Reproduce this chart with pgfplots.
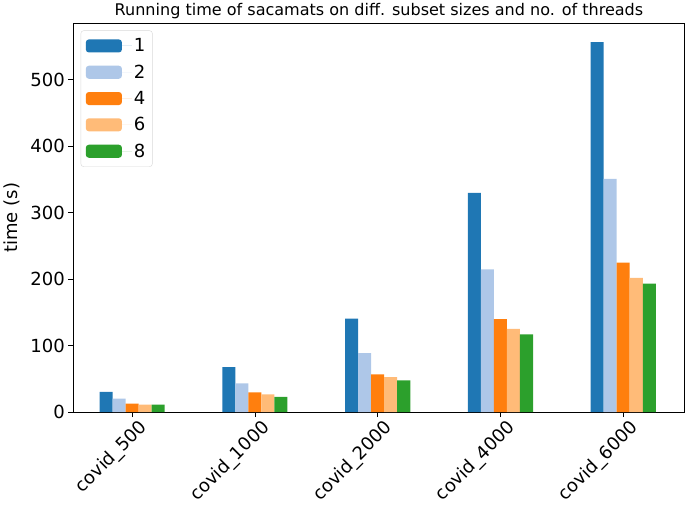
\documentclass[border=0pt]{standalone}
\usepackage{pgfplots}
\pgfplotsset{compat=1.18}
\usepackage{fontspec}
\setmainfont{DejaVu Sans}
\definecolor{c1}{HTML}{1F77B4}
\definecolor{c2}{HTML}{AEC7E8}
\definecolor{c4}{HTML}{FF7F0E}
\definecolor{c6}{HTML}{FFBB78}
\definecolor{c8}{HTML}{2CA02C}
\begin{document}
\begin{tikzpicture}
\begin{axis}[
  scale only axis,
  width=610pt, height=388pt,
  ybar=0pt,
  bar width=0.106,
  xmin=-0.48, xmax=4.5,
  ymin=0, ymax=585,
  xtick={0,1,2,3,4},
  xticklabels={covid\_500,covid\_1000,covid\_2000,covid\_4000,covid\_6000},
  ytick={0,100,200,300,400,500},
  xtick pos=bottom, ytick pos=left,
  tick align=outside,
  major tick length=5pt,
  tick style={black, line width=0.8pt},
  axis line style={line width=0.8pt},
  /pgf/number format/assume math mode=true,
  ticklabel style={font=\fontsize{18}{21}\selectfont},
  xticklabel style={rotate=45, anchor=north east, inner sep=2pt, xshift=5pt, yshift=-3pt},
  ylabel={time (s)},
  ylabel style={font=\fontsize{18}{21}\selectfont, yshift=4pt},
  title={Running time of sacamats on diff. subset sizes and no. of threads},
  title style={font=\fontsize{16}{19}\selectfont, yshift=-5pt},
  legend style={at={(0.012,0.982)}, anchor=north west, font=\fontsize{18}{21}\selectfont,
    draw=black!15, rounded corners=3pt, row sep=7.5pt, inner xsep=5pt, inner ysep=6pt},
  legend image code/.code={\fill[#1] (0pt,-6.5pt) rectangle (36pt,6.5pt); \path (0pt,0pt) -- (46pt,0pt);},
  legend cell align=left,
]
\addplot[fill=c1, draw=none] coordinates {(0,30.6) (1,68) (2,141) (3,330) (4,557)};
\addplot[fill=c2, draw=none] coordinates {(0,20.5) (1,43.5) (2,89) (3,215) (4,351)};
\addplot[fill=c4, draw=none] coordinates {(0,13) (1,30) (2,57) (3,140) (4,225)};
\addplot[fill=c6, draw=none] coordinates {(0,11.5) (1,27) (2,53) (3,125.5) (4,202)};
\addplot[fill=c8, draw=none] coordinates {(0,11.5) (1,23) (2,48) (3,117) (4,193.5)};
\legend{1,2,4,6,8}
\end{axis}
\end{tikzpicture}
\end{document}
